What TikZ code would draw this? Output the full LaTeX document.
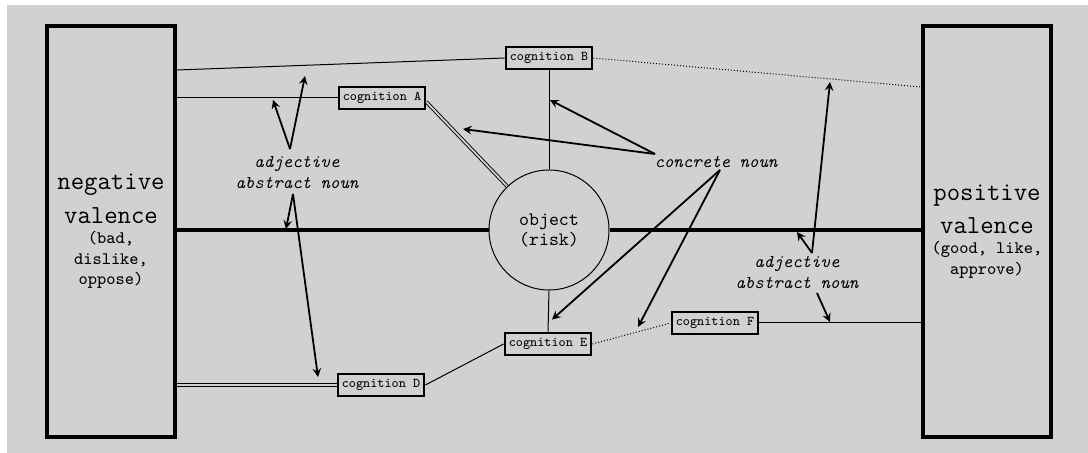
\documentclass[tikz,border=0pt]{standalone}
\usepackage{tikz}
\usetikzlibrary{shapes.geometric, arrows}
\definecolor{paper}{gray}{0.82}
\newcommand{\bigval}{\fontsize{13}{15}\selectfont}
\tikzstyle{valence} = [rectangle, draw=black, line width=2pt, minimum width=64pt, minimum height=205.5pt, inner sep=0pt, align=center, font=\ttfamily\fontsize{8.8}{10.3}\selectfont]
\tikzstyle{cognition} = [rectangle, draw=black, line width=1.4pt, minimum width=43pt, minimum height=11pt, inner sep=0pt, font=\ttfamily\fontsize{6.7}{8}\selectfont]
\tikzstyle{object} = [circle, draw=black, line width=0.5pt, minimum size=60pt, inner sep=0pt, align=center, font=\ttfamily\fontsize{9.5}{10}\selectfont]
\tikzstyle{wordclass} = [align=center, inner sep=0pt, font=\ttfamily\itshape\fontsize{9}{10.5}\selectfont]
\tikzstyle{link} = [line width=0.5pt]
\tikzstyle{weak} = [line width=0.5pt, densely dotted]
\tikzstyle{strong} = [line width=2.2pt]
\tikzstyle{twin} = [line width=0.45pt, double=paper, double distance=0.9pt]
\tikzstyle{arrow} = [line width=0.9pt,->,>=stealth]

\begin{document}
\begin{tikzpicture}[x=0.5pt, y=-0.5pt]
\useasboundingbox (0,0) rectangle (1088,453);
\fill[white] (0,0) rectangle (1088,453);
\fill[paper] (7,5) rectangle (1088,453);

% valence boxes and the object
\node (neg) [valence] at (111,231.5) {\bigval negative\\[4.7pt]\bigval valence\\(bad,\\dislike,\\oppose)};
\node (pos) [valence] at (987,231.5) {\bigval positive\\[4.7pt]\bigval valence\\(good, like,\\approve)};
\node (obj) [object] at (549,230) {object\\(risk)};

% cognitions
\node (cogB) [cognition] at (549,58) {cognition B};
\node (cogA) [cognition] at (382,98) {cognition A};
\node (cogE) [cognition] at (548,344) {cognition E};
\node (cogD) [cognition] at (381,385) {cognition D};
\node (cogF) [cognition] at (715,323) {cognition F};

% word classes
\node (adjL) [wordclass] at (297,173) {adjective\\abstract noun};
\node (conc) [wordclass] at (716,162) {concrete noun};
\node (adjR) [wordclass] at (797,273) {adjective\\abstract noun};

% links
\draw [strong] (obj.west -| neg.east) -- (obj.west);
\draw [strong] (obj.east) -- (obj.east -| pos.west);
\draw [link] ([yshift=-23pt]neg.north east) -- (cogB.west);
\draw [weak] (cogB.east) -- ([yshift=-31.5pt]pos.north west);
\draw [link] (cogA.west -| neg.east) -- (cogA.west);
\draw [twin] ([yshift=-2pt]cogA.east) -- (obj);
\draw [link] (cogB.south) -- (obj.north);
\draw [link] (obj.south) -- (cogE.north);
\draw [link] (cogE.west) -- (cogD.east);
\draw [weak] (cogE.east) -- (cogF.west);
\draw [twin] (cogD.west -| neg.east) -- (cogD.west);
\draw [link] (cogF.east) -- (cogF.east -| pos.west);

% arrow ends
\coordinate (l1) at (290,149);
\coordinate (l2) at (293,194);
\coordinate (c1) at (655,154);
\coordinate (c2) at (720,170);
\coordinate (r1) at (812,253);
\coordinate (r2) at (817,293);
\coordinate (onA) at (273,100);
\coordinate (onB) at (305,76);
\coordinate (onMainL) at (286,229);
\coordinate (onD) at (318,377);
\coordinate (onAO) at (463,129);
\coordinate (onBO) at (550,100);
\coordinate (onEF) at (638,327);
\coordinate (onBpos) at (830,82);
\coordinate (onMainR) at (797,232);
\coordinate (onF) at (830,322);

\draw [arrow] (l1) -- (onA);
\draw [arrow] (l1) -- (onB);
\draw [arrow] (l2) -- (onMainL);
\draw [arrow] (l2) -- (onD);
\draw [arrow] (c1) -- (onAO);
\draw [arrow] (c1) -- (onBO);
\draw [arrow] (c2) -- ([xshift=2pt,yshift=6pt]cogE.north);
\draw [arrow] (c2) -- (onEF);
\draw [arrow] (r1) -- (onBpos);
\draw [arrow] (r1) -- (onMainR);
\draw [arrow] (r2) -- (onF);
\end{tikzpicture}
\end{document}
